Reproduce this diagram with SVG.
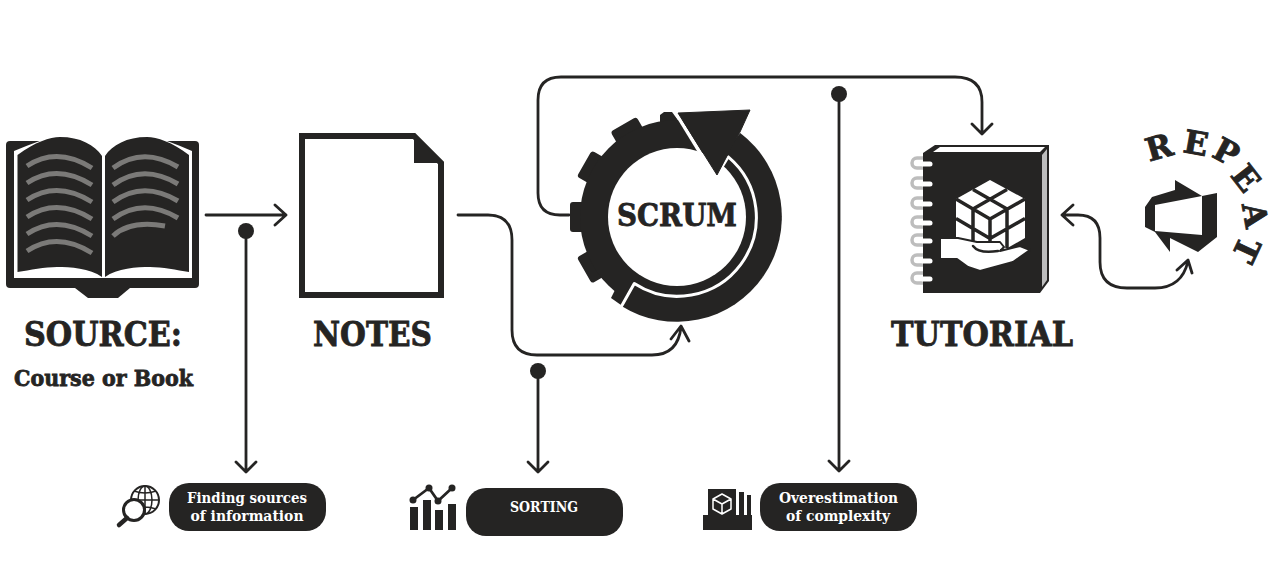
<svg xmlns="http://www.w3.org/2000/svg" width="1275" height="562" viewBox="0 0 1275 562">
<style>
text{font-family:"DejaVu Serif","Liberation Serif",serif;font-weight:bold;fill:#252423;text-anchor:middle}
.h{stroke:#252423;stroke-width:.8}
.d{fill:#252423}
.w{fill:#fff}
.c{fill:none;stroke:#252423;stroke-width:2.800;stroke-linecap:round;stroke-linejoin:round}
.g{fill:none;stroke:#7b7a78;stroke-width:5}
.pill{fill:#252423}
.pt{fill:#fff;font-size:14px}
.big{font-size:34px}
.sl{fill:none;stroke:#bdbdbd;stroke-width:3.500}
.st{fill:none;stroke:#fff;stroke-width:5;stroke-linecap:round}
.cl{fill:none;stroke:#252423;stroke-width:3.500}
</style>
<defs>
<g id="loop"><path class="sl" d="M923,-5H917a5,5 0 0 0 0,10H923"/><path class="st" d="M923,1H930"/></g>
<rect id="tooth" x="-107" y="-15" width="30" height="30" rx="3" class="d"/>
</defs>
<g id="connectors">
<path class="c" d="M206,215H286M275,205L286,215L275,225"/>
<path class="c" d="M246,231V472M236,462L246,472L256,462"/>
<circle class="d" cx="246" cy="231" r="8"/>
<path class="c" d="M458,215H488Q512,215 512,240V330Q512,355 537,355H652Q678,355 681,327M671,339L681,326L689,341"/>
<path class="c" d="M538,371V472M528,462L538,472L548,462"/>
<circle class="d" cx="538" cy="371" r="8"/>
<path class="c" d="M569,215H560Q538,215 538,193V100Q538,77 561,77H955Q982,77 982,102V134M972,124L982,134L992,124"/>
<path class="c" d="M839,94V471M829,461L839,471L849,461"/>
<circle class="d" cx="839" cy="94" r="8"/>
<path class="c" d="M1073,205L1062,215L1073,225M1062,215H1078Q1100,215 1100,238V262Q1100,288 1127,288H1155Q1182,288 1188,261M1177,270L1188,260L1192,273"/>
</g>
<g id="source">
<rect class="d" x="6" y="141" width="193" height="147" rx="4"/>
<polygon class="d" points="75,288 130,288 118,298 88,298"/>
<path class="w" d="M14,151Q40,140 60,135H147Q167,140 192,151V278H14Z"/>
<path class="d" d="M17.500,155C35,142 50,137 60,137C80,137 95,145 102,156V277C90,268 70,267 57,267C45,267 30,270 17.500,272Z"/>
<path class="d" d="M189,155C172,142 157,137 147,137C127,137 112,145 105,156V277C117,268 137,267 150,267C162,267 177,270 189,272Z"/>
<path class="g" d="M27,166Q57,146 92,168M27,183Q57,163 92,185M27,200Q57,180 92,202M27,217Q57,197 92,219M27,234Q57,214 92,236M27,251Q57,231 92,253"/>
<path class="g" d="M113,168Q143,146 178,167M113,185Q143,163 178,184M113,202Q143,180 178,201M113,219Q143,197 178,218M113,236Q130,220 165,226"/>
<text class="big h" x="103" y="346" textLength="158" lengthAdjust="spacingAndGlyphs">SOURCE:</text>
<text class="h" x="103.500" y="386" font-size="23" textLength="179" lengthAdjust="spacingAndGlyphs">Course or Book</text>
</g>
<g id="notes">
<path fill="#fff" stroke="#252423" stroke-width="6" d="M302,136H414L441,163V295H302Z"/>
<polygon class="d" points="414,136 441,163 414,163"/>
<text class="big h" x="372.500" y="346" textLength="119" lengthAdjust="spacingAndGlyphs">NOTES</text>
</g>
<g id="scrum">
<use href="#tooth" transform="translate(677 217)"/>
<use href="#tooth" transform="translate(677 217) rotate(30)"/>
<use href="#tooth" transform="translate(677 217) rotate(60)"/>
<use href="#tooth" transform="translate(677 217) rotate(-30)"/>
<polygon class="d" points="660,115 664,112 672,112 700,150 660,140"/>
<polygon class="d" points="615,290 611,298 621,305 634,290"/>
<circle class="d" cx="677" cy="217" r="97"/>
<path class="d" d="M677,217L621.400,306A105,105 0 0 0 740.200,133.100Z"/>
<path fill="none" stroke="#fff" stroke-width="3" stroke-linejoin="round" d="M620.500,308L634.300,283.500A79,79 0 0 0 728.200,156.800L719,172"/>
<circle class="w" cx="677" cy="217" r="69"/>
<path fill="none" stroke="#fff" stroke-width="3.500" d="M674,110L715,177"/>
<polygon class="d" stroke="#252423" stroke-linejoin="round" points="678,113 750,110 740,132 727,156 717,175"/>
<text class="h" x="677" y="226" font-size="32" textLength="120" lengthAdjust="spacingAndGlyphs">SCRUM</text>
</g>
<g id="tutorial">
<polygon class="d" points="923,153 935,145 1049,145 1049,281 1040,293 923,293"/>
<polygon class="w" points="933,152 940,147 1045,147 1040,152"/>
<polygon fill="#bdbdbd" points="1042,155 1047,149 1047,280 1042,287"/>
<use href="#loop" y="163"/><use href="#loop" y="183"/><use href="#loop" y="203"/><use href="#loop" y="222"/><use href="#loop" y="240"/><use href="#loop" y="260"/><use href="#loop" y="278"/>
<polygon class="w" points="990,180 1025,199 1025,238 990,258 956,238 956,199"/>
<path class="cl" d="M956,199L990,219L1025,199M990,219V258M973,189.500L1007,209M1007,189.500L973,209M973,209V248M956,218.500L990,238.500M1007,209V248M1025,218.500L990,238.500"/>
<path class="w" stroke="#252423" stroke-width="2" stroke-linejoin="round" d="M940,238H958L977,242H1000L1004,247L1000,251L1020,246L1030,250L1013,262L980,271L968,267L957,259H940Z"/>
<path fill="none" stroke="#252423" stroke-width="2.500" stroke-linecap="round" d="M973,246Q979,254 998,251"/>
<text class="big h" x="982" y="346" textLength="182" lengthAdjust="spacingAndGlyphs">TUTORIAL</text>
</g>
<g id="repeat">
<path class="d" fill-rule="evenodd" d="M1145,207L1152,197L1175,190V180L1202,196L1217,193V237L1198,252L1170,238V252L1155,232L1145,227ZM1155,205L1202,196V235L1155,231Z"/>
<g font-size="32" class="h">
<text transform="translate(1162 158) rotate(-16)">R</text>
<text transform="translate(1194 154) rotate(10)">E</text>
<text transform="translate(1221 162) rotate(28)">P</text>
<text transform="translate(1237 185) rotate(52)">E</text>
<text transform="translate(1244 217) rotate(80)">A</text>
<text transform="translate(1236 245) rotate(115)">T</text>
</g>
</g>
<g id="finding">
<circle cx="145" cy="500" r="14" fill="#fff" stroke="#252423" stroke-width="2"/>
<path fill="none" stroke="#252423" stroke-width="1.500" d="M145,486V514M131,500H159M134,491Q145,495 156,491M134,509Q145,505 156,509"/>
<ellipse cx="145" cy="500" rx="7" ry="14" fill="none" stroke="#252423" stroke-width="1.500"/>
<circle cx="134" cy="510" r="10.500" fill="#fff" stroke="#252423" stroke-width="3"/>
<path stroke="#252423" stroke-width="4.500" stroke-linecap="round" d="M127,518L119,525"/>
<rect class="pill" x="169" y="483" width="157" height="48" rx="20"/>
<text class="pt" x="247" y="503" textLength="120" lengthAdjust="spacingAndGlyphs">Finding sources</text>
<text class="pt" x="247" y="521" textLength="113" lengthAdjust="spacingAndGlyphs">of information</text>
</g>
<g id="sorting">
<path class="d" d="M410,507h8v23h-8zM423,500h8v30h-8zM435,510h8v20h-8zM448,504h8v26h-8z"/>
<path class="c" d="M413,500L429,488L438,501L452,488"/>
<circle class="d" cx="413" cy="500" r="3.500"/><circle class="d" cx="429" cy="488" r="3.500"/><circle class="d" cx="438" cy="501" r="3.500"/><circle class="d" cx="452" cy="488" r="3.500"/>
<rect class="pill" x="466" y="488" width="157" height="48" rx="20"/>
<text class="pt" x="544" y="512" textLength="68" lengthAdjust="spacingAndGlyphs">SORTING</text>
</g>
<g id="overestimation">
<path class="d" d="M703,515h49v15h-49zM708,489h28v26h-28zM739,492h5v23h-5zM747,495h4v20h-4z"/>
<path fill="none" stroke="#fff" stroke-width="1.500" stroke-linejoin="round" d="M722,494L731,499V509L722,514L713,509V499ZM713,499L722,504L731,499M722,504V514"/>
<rect class="pill" x="760" y="483" width="157" height="48" rx="20"/>
<text class="pt" x="838.500" y="503" textLength="119" lengthAdjust="spacingAndGlyphs">Overestimation</text>
<text class="pt" x="838" y="521" textLength="104" lengthAdjust="spacingAndGlyphs">of complexity</text>
</g>
</svg>
